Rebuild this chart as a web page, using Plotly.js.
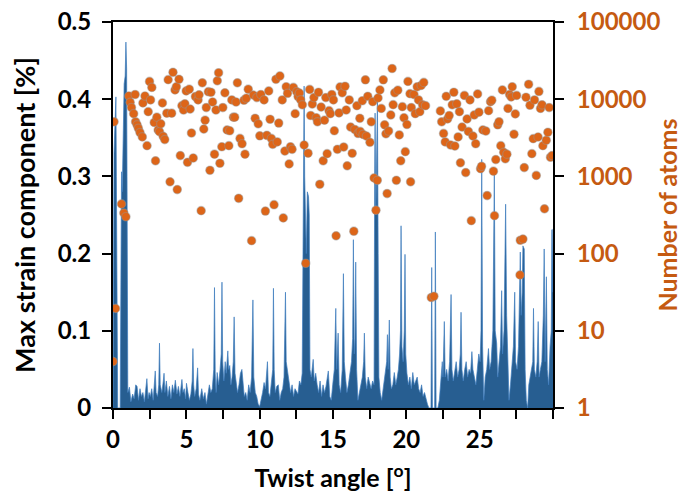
<!DOCTYPE html>
<html>
<head>
<meta charset="utf-8">
<script src="https://cdn.plot.ly/plotly-3.0.1.min.js"></script>
<style>html,body{margin:0;padding:0;background:#fff;}#chart{width:682px;height:494px;}</style>
</head>
<body>
<div id="chart"></div>
<script>
// Max strain component [%] versus twist angle (filled area, left axis)
const strainAngle = [
0.00,0.03,0.07,0.12,0.17,0.20,0.23,0.27,0.32,0.49,0.53,0.58,0.63,0.69,0.76,0.83,0.88,0.93,0.97,1.01,
1.12,1.22,1.34,1.44,1.55,1.64,1.74,1.84,1.94,2.04,2.14,2.24,2.31,2.39,2.46,2.55,2.64,2.74,2.83,2.88,
2.94,3.04,3.12,3.17,3.22,3.33,3.43,3.48,3.54,3.64,3.74,3.85,3.95,4.05,4.15,4.25,4.36,4.46,4.56,4.70,
4.77,4.86,4.95,5.01,5.11,5.21,5.31,5.40,5.45,5.50,5.57,5.67,5.77,5.83,5.92,6.05,6.16,6.27,6.37,6.47,
6.57,6.67,6.77,6.87,6.92,6.97,7.03,7.10,7.20,7.30,7.38,7.43,7.48,7.56,7.65,7.72,7.83,7.88,7.96,8.04,
8.12,8.20,8.26,8.32,8.40,8.49,8.59,8.69,8.79,8.87,8.95,9.05,9.15,9.25,9.35,9.45,9.54,9.60,9.70,9.80,
9.90,10.00,10.10,10.20,10.30,10.40,10.53,10.60,10.70,10.80,10.89,10.94,10.99,11.06,11.16,11.27,11.37,11.47,11.57,11.66,
11.71,11.76,11.81,11.91,12.01,12.11,12.21,12.31,12.41,12.51,12.61,12.71,12.81,12.90,12.96,13.03,13.07,13.12,13.18,13.25,
13.33,13.38,13.43,13.52,13.65,13.72,13.82,13.92,14.02,14.12,14.22,14.32,14.42,14.52,14.68,14.78,14.88,14.98,15.09,15.19,
15.25,15.35,15.42,15.52,15.63,15.71,15.77,15.85,15.95,16.05,16.15,16.26,16.34,16.39,16.45,16.50,16.55,16.61,16.70,16.80,
16.90,17.00,17.09,17.14,17.20,17.30,17.40,17.50,17.60,17.70,17.80,17.84,17.87,17.92,17.97,18.03,18.08,18.13,18.22,18.32,
18.42,18.50,18.58,18.66,18.71,18.76,18.84,18.90,18.98,19.08,19.18,19.28,19.38,19.46,19.54,19.60,19.64,19.70,19.78,19.86,
19.91,19.96,20.04,20.14,20.24,20.34,20.44,20.54,20.64,20.74,20.84,20.94,21.04,21.14,21.24,21.34,21.44,21.54,21.68,21.73,
21.78,21.93,21.98,22.03,22.15,22.25,22.35,22.45,22.50,22.59,22.65,22.75,22.85,22.95,23.05,23.11,23.20,23.30,23.40,23.50,
23.60,23.68,23.73,23.79,23.88,23.98,24.08,24.18,24.28,24.38,24.47,24.54,24.64,24.74,24.84,24.94,25.03,25.09,25.14,25.20,
25.28,25.38,25.48,25.60,25.68,25.78,25.90,26.00,26.06,26.16,26.23,26.33,26.42,26.50,26.56,26.66,26.77,26.84,26.92,27.00,
27.10,27.20,27.30,27.39,27.45,27.55,27.65,27.77,27.83,27.90,27.95,28.04,28.10,28.18,28.27,28.35,28.45,28.55,28.62,28.67,
28.73,28.83,28.92,28.99,29.05,29.14,29.24,29.34,29.40,29.46,29.55,29.61,29.70,29.80,29.88,29.93,29.97,30.00
];
const strainValue = [
0,.25,.33,.36,.38,.403,.30,.02,0,0,.2,.306,.28,.38,.42,.43,.474,.44,.30,.02,
.027,.008,.018,.012,.03,.028,.01,.025,.015,.02,.008,.022,.038,.012,.02,.015,.025,.01,.03,.048,
.02,.015,.03,.084,.03,.02,.035,.045,.02,.035,.015,.028,.012,.03,.02,.036,.018,.028,.015,.037,
.02,.025,.012,.032,.02,.01,.018,.035,.077,.03,.015,.025,.052,.018,.01,.025,.012,.02,.005,.015,
.03,.02,.025,.05,.156,.045,.02,.046,.03,.05,.07,.163,.06,.035,.06,.045,.074,.05,.055,.03,
.04,.06,.118,.045,.035,.02,.03,.045,.05,.025,.015,.02,.01,.03,.02,.04,.14,.04,.02,.015,
.005,.002,.01,.02,.033,.025,.06,.02,.015,.03,.05,.155,.05,.02,.028,.03,.01,.02,.025,.04,
.08,.15,.06,.045,.035,.02,.03,.015,.025,.022,.018,.035,.03,.045,.25,.417,.3,.26,.2,.28,
.274,.25,.05,.04,.063,.035,.045,.03,.02,.035,.015,.03,.02,.028,.048,.015,.01,.03,.05,.129,
.05,.097,.03,.02,.05,.174,.06,.04,.02,.03,.045,.06,.09,.218,.07,.09,.189,.05,.01,.02,
.03,.04,.06,.097,.04,.025,.04,.03,.025,.035,.03,.3,.382,.25,.3,.403,.2,.04,.02,.01,
.025,.035,.045,.06,.095,.05,.114,.04,.025,.03,.046,.03,.04,.05,.07,.1,.236,.08,.06,.1,
.199,.07,.045,.03,.04,.025,.046,.03,.035,.04,.025,.02,.03,.015,.02,.01,.005,0,0,.182,
0,0,.228,0,0,.01,.03,.06,.04,.112,.04,.05,.035,.06,.147,.05,.035,.045,.06,.04,
.05,.07,.124,.05,.035,.05,.06,.04,.05,.045,.073,.05,.04,.03,.05,.07,.06,.1,.322,.08,
.01,.04,.05,.077,.05,.06,.1,.304,.1,.084,.04,.06,.08,.152,.07,.1,.264,.12,.04,.01,
.03,.06,.08,.15,.06,.05,.08,.202,.12,.15,.21,.206,.05,.01,0,.03,.04,.05,.06,.129,
.05,.04,.06,.112,.04,.05,.06,.12,.206,.06,.17,.05,.03,.08,.1,.231,.15,.232
];

// Number of atoms versus twist angle (scatter, right log axis)
const atomsAngle = [
0.00,0.07,0.17,0.58,0.74,0.88,1.08,1.17,1.26,1.41,1.51,1.54,1.64,1.73,1.84,2.00,2.04,2.18,2.32,2.40,
2.49,2.56,2.65,2.81,2.90,2.99,3.08,3.17,3.26,3.37,3.42,3.53,3.67,3.76,3.89,4.00,4.09,4.23,4.32,4.38,
4.50,4.59,4.70,4.81,4.90,4.99,5.08,5.20,5.26,5.35,5.47,5.62,5.80,5.87,6.01,6.09,6.19,6.28,6.36,6.50,
6.61,6.68,6.79,6.92,7.02,7.11,7.20,7.29,7.42,7.49,7.63,7.78,7.90,7.96,8.10,8.21,8.30,8.39,8.48,8.57,
8.66,8.80,8.93,9.00,9.09,9.22,9.45,9.58,9.69,9.81,9.90,10.01,10.08,10.30,10.39,10.49,10.62,10.71,10.80,10.89,
10.98,11.11,11.20,11.30,11.38,11.54,11.61,11.72,11.81,11.90,12.01,12.10,12.21,12.30,12.42,12.53,12.62,12.71,12.80,12.91,
13.03,13.14,13.30,13.41,13.48,13.59,13.70,13.86,13.94,14.01,14.10,14.19,14.33,14.42,14.51,14.60,14.73,14.82,14.92,15.03,
15.09,15.21,15.30,15.41,15.48,15.63,15.73,15.82,15.90,15.97,16.11,16.20,16.31,16.42,16.49,16.63,16.71,16.83,16.85,17.00,
17.05,17.21,17.28,17.37,17.52,17.61,17.71,17.80,17.93,18.02,18.07,18.20,18.29,18.43,18.52,18.61,18.69,18.79,18.94,19.03,
19.10,19.21,19.32,19.42,19.52,19.62,19.73,19.84,19.93,20.04,20.11,20.25,20.29,20.34,20.52,20.61,20.74,20.83,20.92,21.01,
21.11,21.19,21.31,21.70,21.88,22.32,22.41,22.54,22.65,22.72,22.81,22.92,23.02,23.13,23.24,23.31,23.44,23.53,23.62,23.69,
23.80,23.96,24.05,24.14,24.23,24.34,24.43,24.54,24.63,24.73,24.86,24.95,25.06,25.13,25.22,25.42,25.51,25.61,25.74,25.83,
25.94,26.01,26.10,26.23,26.32,26.44,26.55,26.64,26.75,26.86,26.93,27.04,27.15,27.22,27.34,27.43,27.52,27.75,27.77,27.95,
28.04,28.16,28.34,28.43,28.56,28.65,28.74,28.86,28.98,29.04,29.15,29.25,29.31,29.42,29.54,29.65,29.74,29.83,29.94
];
const atomsCount = [
4,5100,19.5,440,335,300,11000,9100,7800,6500,11500,5100,4650,4200,3700,3250,8950,11000,2500,6900,
17000,9800,14200,5000,1590,5850,4000,3800,4800,8950,3300,3000,6600,17900,850,6600,22300,13200,14500,675,
18100,1860,8250,7250,8700,12800,1520,13500,7450,3650,1730,10800,9800,11400,360,16300,4100,5350,7800,12500,
1200,12300,9200,1940,7250,17300,22000,1480,2420,7800,12100,4000,2500,3900,9800,5850,5850,9200,16300,520,
3100,2650,9700,1940,10300,13500,147,11300,5650,10500,4800,3350,11500,9800,355,3400,12800,5500,3100,2600,
430,18100,2800,4900,20000,9800,290,2130,14500,11900,1450,2420,2240,14200,6500,12500,10800,12000,9800,8450,
2550,75,2000,13400,6150,8650,10500,5750,5100,12300,790,7900,1590,5350,10500,1970,7100,6500,11500,9800,
3900,170,2240,6650,14400,12100,2400,14700,7250,1370,9800,4350,1990,195,4050,8250,3600,5650,3830,9550,
3500,17800,3330,10900,2760,5100,9300,955,365,890,10400,13200,7600,17800,4650,3560,600,3870,6250,25000,
8500,12100,890,13100,3450,1590,8000,5750,2090,4700,17000,11800,850,7800,11500,6500,14500,9800,6900,15100,
8450,16500,8250,27,28,7050,5100,3600,2800,10900,5550,6150,2550,8450,12300,2470,8700,3250,6900,1500,
4350,11200,1120,5550,3830,9800,267,3330,6250,2650,11700,6800,1260,1350,4000,3870,565,7100,9300,9700,
1170,310,1650,4650,5100,2500,13200,2050,1690,1940,7600,11500,10700,14500,3520,6450,11200,53,149,154,
1300,10600,15600,8350,1970,3080,9800,1030,3240,12600,7600,8450,2500,380,2940,3720,7800,1770,1860
];

// Axis ticks
const xTickVals = [0,5,10,15,20,25];
const xTickText = ['0','5','10','15','20','25'];
const y2TickVals = [1,10,100,1000,10000,100000];
const y2TickText = ['1','10','100','1000','10000','100000'];

const ORANGE = '#c55a11';
const FONT = 'Lato, "Open Sans", sans-serif';

const traces = [
  {
    x: strainAngle, y: strainValue, type: 'scatter', mode: 'lines',
    fill: 'tozeroy', fillcolor: '#275e91',
    line: {color: '#3d7dbf', width: 0.7},
    yaxis: 'y', hoverinfo: 'skip'
  },
  {
    x: atomsAngle, y: atomsCount, type: 'scatter', mode: 'markers',
    marker: {size: 8.5, color: '#dd6518', line: {color: 'rgba(150,150,150,0.45)', width: 1.2}},
    yaxis: 'y2'
  }
];

const axisCommon = {
  showline: true, linecolor: '#000', linewidth: 2,
  ticks: 'outside', ticklen: 9, tickwidth: 2, tickcolor: '#000',
  showgrid: false, zeroline: false
};

const layout = {
  width: 682, height: 494,
  margin: {l: 113, r: 129, t: 22, b: 86, pad: 0},
  paper_bgcolor: '#fff', plot_bgcolor: '#fff',
  showlegend: false,
  font: {family: FONT, color: '#000'},
  xaxis: Object.assign({}, axisCommon, {
    range: [0, 30], tickmode: 'array', tickvals: xTickVals, ticktext: xTickText,
    minor: {tickmode: 'linear', tick0: 0, dtick: 2.5, ticks: 'outside', ticklen: 9, tickwidth: 2, tickcolor: '#000', showgrid: false},
    mirror: true,
    tickfont: {family: FONT, size: 24, weight: 'bold', color: '#000'},
    title: {text: 'Twist angle [<sup>o</sup>]', font: {family: FONT, size: 25, weight: 'bold', color: '#000'}, standoff: 18}
  }),
  yaxis: Object.assign({}, axisCommon, {
    range: [0, 0.5], tickmode: 'linear', tick0: 0, dtick: 0.1,
    tickfont: {family: FONT, size: 24, weight: 'bold', color: '#000'},
    ticklabelstandoff: 6,
    title: {text: 'Max strain component [%]', font: {family: FONT, size: 27, weight: 'bold', color: '#000'}, standoff: 14}
  }),
  yaxis2: Object.assign({}, axisCommon, {
    overlaying: 'y', side: 'right', type: 'log', range: [0, 5],
    tickmode: 'array', tickvals: y2TickVals, ticktext: y2TickText,
    tickfont: {family: FONT, size: 24, weight: 'bold', color: ORANGE},
    ticklabelstandoff: 8,
    title: {text: 'Number of atoms', font: {family: FONT, size: 25, weight: 'bold', color: ORANGE}, standoff: 10}
  })
};

Plotly.newPlot('chart', traces, layout, {staticPlot: true, displayModeBar: false});
</script>
</body>
</html>
